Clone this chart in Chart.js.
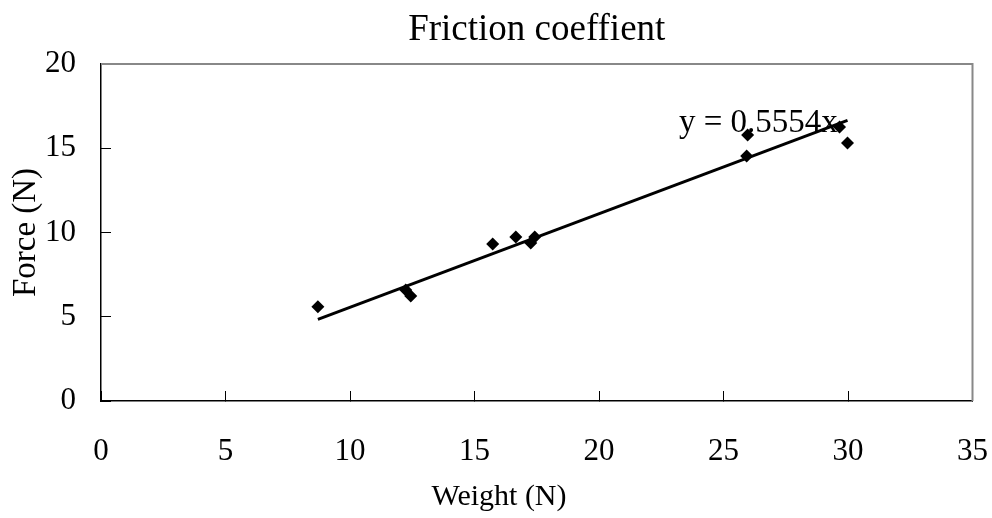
<!DOCTYPE html>
<html><head><meta charset="utf-8">
<script src="https://cdn.jsdelivr.net/npm/chart.js@4.4.1/dist/chart.umd.min.js"></script>
<style>html,body{margin:0;padding:0;background:#fff}canvas{display:block}</style>
</head><body>
<canvas id="c" width="992" height="518"></canvas>
<script>
// ---- data ----
const weights = [8.71, 12.24, 12.44, 15.73, 16.66, 17.26, 17.42, 25.93, 25.97, 29.66, 29.98];
const forces  = [5.6, 6.59, 6.23, 9.32, 9.73, 9.38, 9.73, 14.54, 15.79, 16.26, 15.31];
const trendX = [8.71, 29.98];
const trendY = [4.84, 16.65];
const xTickValues = [0, 5, 10, 15, 20, 25, 30, 35];
const yTickValues = [0, 5, 10, 15, 20];
const chartTitle = 'Friction coeffient';
const xAxisTitle = 'Weight (N)';
const yAxisTitle = 'Force (N)';
const trendLabel = 'y = 0.5554x';
const trendLabelAt = [26.4, 16.45];

const FONT = 'Liberation Serif, Times New Roman, serif';

const frame = {
  id: 'frame',
  afterLayout(chart) {
    const s = chart.scales.xt;
    s.left = 25; s.right = 973; s.top = 518; s.bottom = 518;
  },
  beforeDatasetsDraw(chart) {
    const {ctx, chartArea: a} = chart;
    ctx.save();
    ctx.strokeStyle = '#888888';
    ctx.lineWidth = 2;
    ctx.beginPath();
    ctx.moveTo(a.left, a.top); ctx.lineTo(a.right, a.top); ctx.lineTo(a.right, a.bottom);
    ctx.stroke();
    ctx.restore();
  },
  afterDatasetsDraw(chart) {
    const {ctx, scales: {x, y}} = chart;
    ctx.save();
    ctx.font = '33px ' + FONT;
    ctx.fillStyle = '#000';
    ctx.textAlign = 'center';
    ctx.textBaseline = 'middle';
    ctx.fillText(trendLabel, x.getPixelForValue(trendLabelAt[0]), y.getPixelForValue(trendLabelAt[1]));
    ctx.restore();
  }
};

new Chart(document.getElementById('c'), {
  type: 'scatter',
  data: {
    datasets: [
      {
        label: 'Force',
        data: weights.map((w, i) => ({x: w, y: forces[i]})),
        pointStyle: 'rectRot',
        pointRadius: 6.5,
        pointHoverRadius: 6.5,
        backgroundColor: '#000',
        borderColor: '#000',
        borderWidth: 0,
        order: 2
      },
      {
        label: 'Trend',
        type: 'line',
        data: trendX.map((v, i) => ({x: v, y: trendY[i]})),
        borderColor: '#000',
        borderWidth: 3,
        pointRadius: 0,
        fill: false,
        order: 1
      }
    ]
  },
  options: {
    responsive: false,
    animation: false,
    layout: {padding: {top: 0, right: 19, bottom: 0, left: 0}},
    plugins: {
      legend: {display: false},
      tooltip: {enabled: false},
      title: {
        display: true,
        fullSize: false,
        text: chartTitle,
        color: '#000',
        font: {family: FONT, size: 37, weight: 'normal', lineHeight: 1.2},
        padding: {top: 8, bottom: 11.6}
      }
    },
    scales: {
      x: {
        type: 'linear',
        position: 'bottom',
        min: 0, max: 35,
        afterBuildTicks: s => { s.ticks = xTickValues.map(v => ({value: v})); },
        afterFit: s => { s.height = 117; },
        grid: {display: true, drawOnChartArea: false, drawTicks: true, tickLength: -10, color: '#000', lineWidth: 1},
        border: {display: true, color: '#000', width: 1.5},
        ticks: {color: '#000', font: {family: FONT, size: 31, lineHeight: 3.677}, padding: 4, maxRotation: 0},
        title: {display: false}
      },
      xt: {
        type: 'linear',
        position: 'bottom',
        display: true,
        afterFit: s => { s.height = 0; },
        grid: {display: false},
        border: {display: false},
        ticks: {display: false},
        title: {display: true, text: xAxisTitle, color: '#000', font: {family: FONT, size: 30, lineHeight: 1.2}, padding: {top: 0, bottom: 3}}
      },
      y: {
        type: 'linear',
        position: 'left',
        min: 0, max: 20,
        afterBuildTicks: s => { s.ticks = yTickValues.map(v => ({value: v})); },
        afterFit: s => { s.width = 101; },
        grid: {display: true, drawOnChartArea: false, drawTicks: true, tickLength: -10, color: '#000', lineWidth: 1},
        border: {display: true, color: '#000', width: 1.5},
        ticks: {color: '#000', font: {family: FONT, size: 31}, padding: 35},
        title: {display: true, text: yAxisTitle, color: '#000', font: {family: FONT, size: 33, lineHeight: 1.2}, padding: {top: 7, bottom: 0}}
      }
    }
  },
  plugins: [frame]
});
</script>
</body></html>
